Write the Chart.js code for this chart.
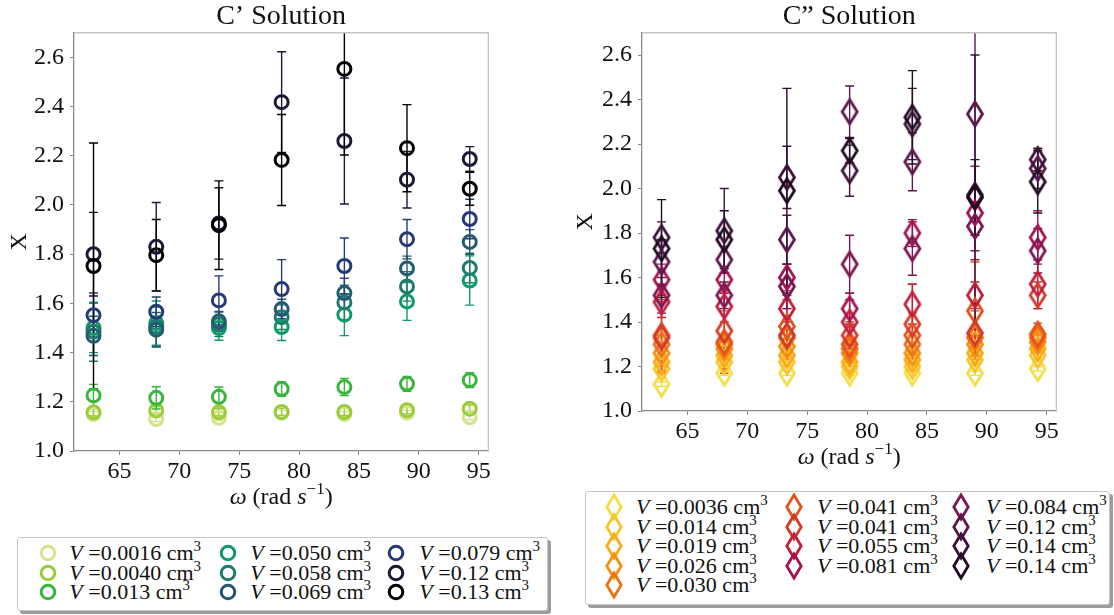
<!DOCTYPE html>
<html>
<head>
<meta charset="utf-8">
<script src="https://cdn.jsdelivr.net/npm/chart.js@4.4.1/dist/chart.umd.min.js"></script>
<style>
  html, body { margin: 0; padding: 0; background: #fff; }
  body { width: 1114px; height: 615px; position: relative; overflow: hidden;
         font-family: 'Liberation Serif', 'DejaVu Serif', serif; }
  canvas { position: absolute; top: 0; }
  #chartL { left: 0; }
  #chartR { left: 566px; }
  .legend { position: absolute; box-sizing: border-box; background: #fff;
            border: 1.3px solid #c6c6c6; border-radius: 3px; box-shadow: 3px 3px 0 #9c9c9c; }
  .lbl { position: absolute; white-space: nowrap; font-size: 22px; line-height: 22px; color: #111; }
  .lbl sup { font-size: 15px; line-height: 0; vertical-align: 0; position: relative; top: -9px; }
  .mk { position: absolute; }
</style>
</head>
<body>
<canvas id="chartL" width="500" height="521"></canvas>
<canvas id="chartR" width="500" height="481"></canvas>
<div class="legend" id="legL" style="left:17px;top:537px;width:531px;height:74px;"></div>
<div class="legend" id="legR" style="left:585px;top:491px;width:525px;height:114px;"></div>
<script>
var FONT = 'Liberation Serif, DejaVu Serif, serif';

// angular speed (rad/s) shared by both panels
var omega = [62.83, 68.07, 73.30, 78.54, 83.78, 89.01, 94.25];
var yTicksStep = 0.2;
var xTicksStep = 5;

// ---- C' solution (circles) ----
var cpVolumes = ['0.0016', '0.0040', '0.013', '0.050', '0.058', '0.069', '0.079', '0.12', '0.13'];
var cpColors = ['#d3e58c', '#9acb38', '#38b63c', '#0f9a6a', '#1f7b6e', '#235a70', '#273a78', '#1d1935', '#000000'];
var cp0016 = [1.150, 1.130, 1.135, 1.155, 1.150, 1.155, 1.137];
var cp0040 = [1.157, 1.165, 1.157, 1.159, 1.159, 1.166, 1.172];
var cp013  = [1.226, 1.216, 1.220, 1.252, 1.260, 1.273, 1.288];
var cp050  = [1.500, 1.520, 1.500, 1.504, 1.554, 1.608, 1.693];
var cp058  = [1.485, 1.505, 1.515, 1.544, 1.604, 1.669, 1.744];
var cp069  = [1.468, 1.493, 1.527, 1.577, 1.642, 1.742, 1.850];
var cp079  = [1.552, 1.566, 1.612, 1.658, 1.752, 1.861, 1.943];
var cp12   = [1.800, 1.830, 1.925, 2.418, 2.260, 2.103, 2.187];
var cp13   = [1.752, 1.796, 1.918, 2.183, 2.553, 2.231, 2.066];
var cp0016Err = [0.010, 0.010, 0.010, 0.010, 0.010, 0.010, 0.010];
var cp0040Err = [0.015, 0.015, 0.015, 0.015, 0.015, 0.015, 0.015];
var cp013Err  = [0.045, 0.045, 0.040, 0.030, 0.035, 0.030, 0.030];
var cp050Err  = [0.100, 0.090, 0.050, 0.055, 0.085, 0.077, 0.100];
var cp058Err  = [0.120, 0.080, 0.050, 0.050, 0.070, 0.060, 0.060];
var cp069Err  = [0.080, 0.070, 0.040, 0.040, 0.060, 0.050, 0.050];
var cp079Err  = [0.090, 0.060, 0.100, 0.120, 0.114, 0.080, 0.080];
var cp12Err   = [0.170, 0.180, 0.145, 0.205, 0.256, 0.115, 0.050];
var cp13Err   = [0.500, 0.145, 0.180, 0.185, 0.350, 0.177, 0.067];

// ---- C'' solution (diamonds) ----
var cppVolumes = ['0.0036', '0.014', '0.019', '0.026', '0.030', '0.041', '0.041', '0.055', '0.081', '0.084', '0.12', '0.14', '0.14'];
var cppColors = ['#f1df44', '#f7c52b', '#f9aa17', '#f58f12', '#ec7213', '#e2531c', '#d43a29', '#c11f3c', '#a3144e', '#7c1551', '#5b164b', '#3d1238', '#210c23'];
var cpp0036 = [1.12, 1.17, 1.17, 1.17, 1.17, 1.17, 1.19];
var cpp014  = [1.19, 1.22, 1.22, 1.20, 1.20, 1.23, 1.25];
var cpp019  = [1.22, 1.25, 1.25, 1.22, 1.23, 1.26, 1.28];
var cpp026  = [1.26, 1.28, 1.29, 1.26, 1.26, 1.30, 1.31];
var cpp030  = [1.30, 1.30, 1.33, 1.28, 1.30, 1.33, 1.33];
var cpp041a = [1.34, 1.31, 1.38, 1.30, 1.34, 1.45, 1.345];
var cpp041b = [1.33, 1.36, 1.34, 1.34, 1.39, 1.35, 1.52];
var cpp055  = [1.49, 1.47, 1.46, 1.40, 1.48, 1.52, 1.57];
var cpp081  = [1.59, 1.59, 1.60, 1.46, 1.80, 1.89, 1.78];
var cpp084  = [1.52, 1.52, 1.56, 1.66, 1.73, 1.83, 1.72];
var cpp12   = [1.67, 1.68, 1.77, 2.345, 2.12, 2.335, 2.09];
var cpp14a  = [1.78, 1.81, 2.05, 2.08, 2.29, 1.97, 2.13];
var cpp14b  = [1.73, 1.77, 1.99, 2.17, 2.32, 1.96, 2.03];
var cpp0036Err = [0.010, 0.010, 0.010, 0.010, 0.010, 0.010, 0.010];
var cpp014Err  = [0.015, 0.015, 0.015, 0.015, 0.015, 0.015, 0.015];
var cpp019Err  = [0.020, 0.020, 0.020, 0.020, 0.020, 0.020, 0.020];
var cpp026Err  = [0.030, 0.030, 0.030, 0.030, 0.030, 0.030, 0.030];
var cpp030Err  = [0.040, 0.040, 0.040, 0.040, 0.040, 0.040, 0.040];
var cpp041aErr = [0.160, 0.140, 0.120, 0.080, 0.100, 0.220, 0.050];
var cpp041bErr = [0.160, 0.170, 0.120, 0.060, 0.180, 0.100, 0.060];
var cpp055Err  = [0.070, 0.070, 0.060, 0.100, 0.090, 0.060, 0.110];
var cpp081Err  = [0.070, 0.060, 0.060, 0.070, 0.060, 0.210, 0.120];
var cpp084Err  = [0.080, 0.060, 0.100, 0.130, 0.120, 0.110, 0.100];
var cpp12Err   = [0.100, 0.060, 0.110, 0.116, 0.130, 0.400, 0.090];
var cpp14aErr  = [0.070, 0.190, 0.140, 0.115, 0.160, 0.630, 0.050];
var cpp14bErr  = [0.220, 0.130, 0.460, 0.055, 0.210, 0.170, 0.140];

var cpSeries = [cp0016, cp0040, cp013, cp050, cp058, cp069, cp079, cp12, cp13];
var cpErrors = [cp0016Err, cp0040Err, cp013Err, cp050Err, cp058Err, cp069Err, cp079Err, cp12Err, cp13Err];
var cppSeries = [cpp0036, cpp014, cpp019, cpp026, cpp030, cpp041a, cpp041b, cpp055, cpp081, cpp084, cpp12, cpp14a, cpp14b];
var cppErrors = [cpp0036Err, cpp014Err, cpp019Err, cpp026Err, cpp030Err, cpp041aErr, cpp041bErr, cpp055Err, cpp081Err, cpp084Err, cpp12Err, cpp14aErr, cpp14bErr];

function diamondImage(color) {
  var hw = 7.5, hh = 12, lw = 2.8;
  var c = document.createElement('canvas');
  c.width = Math.ceil(2 * hw + lw + 2);
  c.height = Math.ceil(2 * hh + lw + 2);
  var g = c.getContext('2d');
  var cx = c.width / 2, cy = c.height / 2;
  g.strokeStyle = color;
  g.lineWidth = lw;
  g.beginPath();
  g.moveTo(cx, cy - hh);
  g.lineTo(cx + hw, cy);
  g.lineTo(cx, cy + hh);
  g.lineTo(cx - hw, cy);
  g.closePath();
  g.stroke();
  return c;
}

var errorBars = {
  id: 'errorBars',
  beforeDatasetsDraw: function (chart) {
    var ctx = chart.ctx, area = chart.chartArea, y = chart.scales.y;
    ctx.save();
    ctx.beginPath();
    ctx.rect(area.left, area.top, area.right - area.left, area.bottom - area.top);
    ctx.clip();
    chart.data.datasets.forEach(function (ds, i) {
      var meta = chart.getDatasetMeta(i);
      ctx.strokeStyle = ds.borderColor;
      ctx.lineWidth = 1.4;
      meta.data.forEach(function (pt, j) {
        var v = ds.data[j].y, e = ds.errors[j];
        var yt = y.getPixelForValue(v + e), yb = y.getPixelForValue(v - e);
        ctx.beginPath();
        ctx.moveTo(pt.x, yt); ctx.lineTo(pt.x, yb);
        ctx.moveTo(pt.x - 4.5, yt); ctx.lineTo(pt.x + 4.5, yt);
        ctx.moveTo(pt.x - 4.5, yb); ctx.lineTo(pt.x + 4.5, yb);
        ctx.stroke();
      });
    });
    ctx.restore();
  }
};

var frameAndTitle = {
  id: 'frameAndTitle',
  afterDraw: function (chart) {
    var ctx = chart.ctx, a = chart.chartArea;
    ctx.save();
    ctx.strokeStyle = '#c4c4c4';
    ctx.lineWidth = 1.3;
    ctx.beginPath();
    ctx.moveTo(a.left, a.top);
    ctx.lineTo(a.right, a.top);
    ctx.lineTo(a.right, a.bottom);
    ctx.stroke();

    // x axis title: omega (rad s^-1)
    var size = 24;
    var segs = [
      { t: '\u03c9', f: 'italic ' + size + 'px ' + FONT, dy: 0 },
      { t: ' (rad ', f: size + 'px ' + FONT, dy: 0 },
      { t: 's', f: 'italic ' + size + 'px ' + FONT, dy: 0 },
      { t: '\u22121', f: Math.round(size * 0.7) + 'px ' + FONT, dy: -size * 0.4 },
      { t: ')', f: size + 'px ' + FONT, dy: 0 }
    ];
    var total = 0;
    segs.forEach(function (s) { ctx.font = s.f; s.w = ctx.measureText(s.t).width; total += s.w; });
    var x = (a.left + a.right) / 2 - total / 2;
    var base = a.bottom + 53;
    ctx.fillStyle = '#111';
    ctx.textBaseline = 'alphabetic';
    ctx.textAlign = 'left';
    segs.forEach(function (s) { ctx.font = s.f; ctx.fillText(s.t, x, base + s.dy); x += s.w; });
    ctx.restore();
  }
};

function makeChart(canvasId, title, series, errors, colors, marker, yWidth, rightPad) {
  var datasets = series.map(function (vals, i) {
    var style = marker === 'diamond' ? diamondImage(colors[i]) : 'circle';
    return {
      label: 'V =' + (marker === 'diamond' ? cppVolumes[i] : cpVolumes[i]) + ' cm\u00b3',
      data: omega.map(function (x, j) { return { x: x, y: vals[j] }; }),
      errors: errors[i],
      borderColor: colors[i],
      backgroundColor: 'rgba(0,0,0,0)',
      pointStyle: style,
      pointRadius: 6.5,
      borderWidth: 3,
      pointHoverRadius: 6.5,
      showLine: false,
      order: series.length - i
    };
  });

  return new Chart(document.getElementById(canvasId), {
    type: 'scatter',
    data: { datasets: datasets },
    options: {
      responsive: false,
      animation: false,
      devicePixelRatio: 1,
      layout: { padding: { left: 0, right: rightPad, top: 0, bottom: 0 } },
      plugins: {
        legend: { display: false },
        tooltip: { enabled: false },
        title: {
          display: true,
          fullSize: false,
          text: title,
          color: '#111',
          font: { family: FONT, size: 28, weight: 'normal', lineHeight: 1.17 },
          padding: { top: 0, bottom: 0 }
        }
      },
      scales: {
        x: {
          type: 'linear',
          min: 61.2,
          max: 95.8,
          afterFit: function (s) { s.height = 70; },
          ticks: { stepSize: xTicksStep, includeBounds: false, color: '#111', padding: 2,
                   font: { family: FONT, size: 24 }, maxRotation: 0 },
          grid: { display: true, drawOnChartArea: false, drawTicks: true, tickLength: 4, color: '#8a8a8a' },
          border: { display: true, color: '#8a8a8a', width: 1.3 },
          title: { display: false }
        },
        y: {
          type: 'linear',
          min: 1.0,
          max: 2.7,
          afterFit: function (s) { s.width = yWidth; },
          ticks: { stepSize: yTicksStep, includeBounds: false, color: '#111', padding: 6,
                   font: { family: FONT, size: 24 },
                   callback: function (v) { return Number(v).toFixed(1); } },
          grid: { display: true, drawOnChartArea: false, drawTicks: true, tickLength: 4, color: '#8a8a8a' },
          border: { display: true, color: '#8a8a8a', width: 1.3 },
          title: { display: true, text: 'X', color: '#111',
                   font: { family: FONT, size: 24 }, padding: { top: 5, bottom: 0 } }
        }
      }
    },
    plugins: [errorBars, frameAndTitle]
  });
}

function markerSvg(kind, color) {
  if (kind === 'circle') {
    return '<svg width="22" height="22" viewBox="0 0 22 22"><circle cx="11" cy="11" r="6.8" fill="none" stroke="' +
      color + '" stroke-width="3"/></svg>';
  }
  return '<svg width="22" height="30" viewBox="0 0 22 30"><path d="M11 3 L18.2 15 L11 27 L3.8 15 Z" fill="none" stroke="' +
    color + '" stroke-width="2.8"/></svg>';
}

function buildLegend(box, volumes, colors, kind, cols, rows, markX, textX, rowY) {
  var bx = parseFloat(box.style.left), by = parseFloat(box.style.top);
  volumes.forEach(function (vol, i) {
    var c = cols[i], r = rows[i];
    var mk = document.createElement('div');
    mk.className = 'mk';
    mk.innerHTML = markerSvg(kind, colors[i]);
    var mh = kind === 'circle' ? 22 : 30;
    mk.style.left = (markX[c] - bx - 11) + 'px';
    mk.style.top = (rowY[r] - by - mh / 2) + 'px';
    box.appendChild(mk);
    var t = document.createElement('div');
    t.className = 'lbl';
    t.innerHTML = '<i>V</i> =' + vol + ' cm<sup>3</sup>';
    t.style.left = (textX[c] - bx) + 'px';
    t.style.top = (rowY[r] - by - 11) + 'px';
    box.appendChild(t);
  });
}

Chart.defaults.font.family = FONT;

function init() {
  makeChart('chartL', 'C\u2019 Solution', cpSeries, cpErrors, cpColors, 'circle', 74, 11.7);
  makeChart('chartR', 'C\u201d Solution', cppSeries, cppErrors, cppColors, 'diamond', 76, 9.7);

  buildLegend(document.getElementById('legL'), cpVolumes, cpColors, 'circle',
    [0, 0, 0, 1, 1, 1, 2, 2, 2], [0, 1, 2, 0, 1, 2, 0, 1, 2],
    [46.7, 226.7, 395], [68.3, 249.3, 418.3], [552, 571.5, 591]);
  buildLegend(document.getElementById('legR'), cppVolumes, cppColors, 'diamond',
    [0, 0, 0, 0, 0, 1, 1, 1, 1, 2, 2, 2, 2], [0, 1, 2, 3, 4, 0, 1, 2, 3, 0, 1, 2, 3],
    [613.3, 792.7, 960], [635, 816, 985], [506.3, 525.8, 545.2, 564.6, 584]);
}

if (document.readyState === 'loading') {
  document.addEventListener('DOMContentLoaded', init);
} else {
  init();
}
</script>
</body>
</html>
